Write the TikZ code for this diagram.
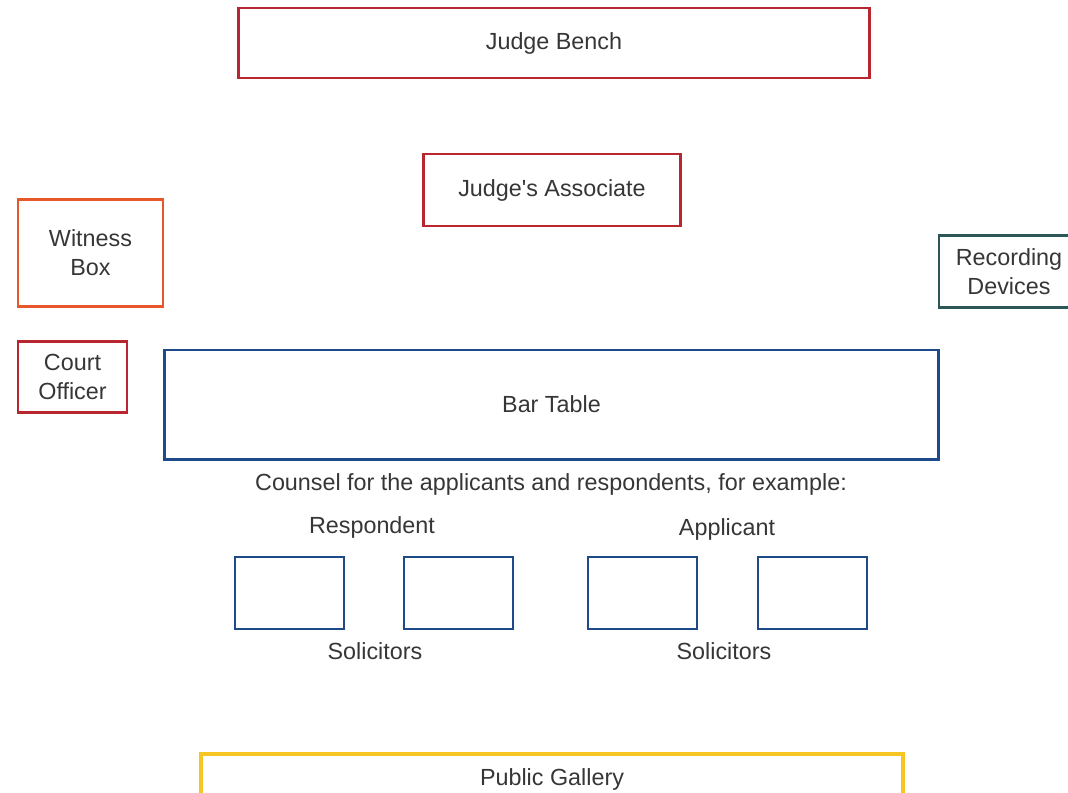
\documentclass[tikz,border=0pt]{standalone}
\usepackage{fontspec}
\setmainfont{Liberation Sans}
\usepackage{xcolor}
\definecolor{benchRed}{HTML}{B8262F}
\definecolor{witnessOrange}{HTML}{E8572A}
\definecolor{deviceTeal}{HTML}{2D5656}
\definecolor{barBlue}{HTML}{1E4A8A}
\definecolor{galleryYellow}{HTML}{F6C623}
\definecolor{labelGray}{HTML}{363636}
\usepackage{tikz}
\usetikzlibrary{positioning}

\tikzset{
    room/.style={draw=#1, line width=2.1pt, text=labelGray,
        align=center, inner sep=0pt, font=\fontsize{16.6}{20.5}\selectfont},
    caption/.style={text=labelGray, inner sep=0pt, font=\fontsize{16.6}{20}\selectfont}
}

\begin{document}
\begin{tikzpicture}[x=0.025cm, y=-0.025cm]
    % Marco de la imagen (coordenadas en pixeles)
    \clip (0,0) rectangle (1068,792);
    \useasboundingbox (0,0) rectangle (1068,792);

    % Estrado del juez y asociado
    \node[room=benchRed, minimum width=15.75cm, minimum height=1.75cm] (bench) at (554,43) {Judge Bench};
    \node[room=benchRed, minimum width=6.4cm, minimum height=1.8cm] (assoc) at (552,190) {Judge\textquotesingle s Associate};

    % Laterales
    \node[room=witnessOrange, minimum width=3.625cm, minimum height=2.675cm] (witness) at (90.5,253) {Witness\\Box};
    \node[room=benchRed, minimum width=2.725cm, minimum height=1.775cm] (officer) at (72.5,377) {Court\\Officer};
    \node[room=deviceTeal, minimum width=3.5cm, minimum height=1.8cm] (devices) at (1009,271.5) {Recording\\Devices};

    % Mesa de abogados
    \node[room=barBlue, minimum width=19.325cm, minimum height=2.725cm] (bar) at (551.5,404.5) {Bar Table};
    \node[caption] (counsel) at (551,484) {Counsel for the applicants and respondents, for example:};
    \node[caption] (respondent) at (372,527) {Respondent};
    \node[caption] (applicant) at (727,529) {Applicant};

    % Procuradores
    \foreach \name/\cx in {resA/289.5, resB/458.5, appA/642.5, appB/812.5}
        \node[room=barBlue, minimum width=2.725cm, minimum height=1.8cm] (\name) at (\cx,593) {};
    \node[caption] (solRes) at (375,651) {Solicitors};
    \node[caption] (solApp) at (724,651) {Solicitors};

    % Galeria publica (cortada por el borde inferior)
    \draw[galleryYellow, line width=2.4pt] (201,800) -- (201,754) -- (903,754) -- (903,800);
    \node[caption] (gallery) at (552,779) {Public Gallery};
\end{tikzpicture}
\end{document}
